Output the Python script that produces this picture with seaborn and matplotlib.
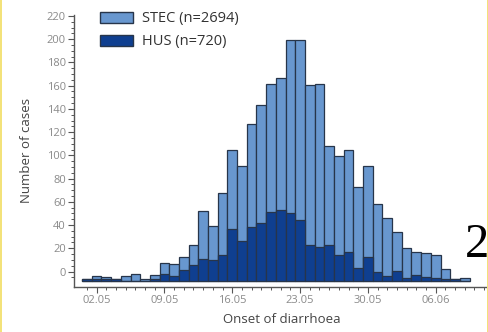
#!/usr/bin/env python3
"""Epidemic curve of STEC / HUS cases by onset of diarrhoea."""

import matplotlib.pyplot as plt
import numpy as np
import pandas as pd
import seaborn as sns
from matplotlib.patches import Patch, Rectangle
from matplotlib.ticker import FixedLocator

# one bar per day, 01.05 to 09.06
onset_days = pd.date_range("2011-05-01", periods=40, freq="D").strftime("%d.%m").tolist()
stec_cases = [1, 4, 3, 1, 4, 6, 1, 5, 15, 14, 20, 31, 60, 47, 75, 112, 99, 135, 151, 169,
              174, 207, 207, 168, 169, 116, 107, 112, 81, 99, 66, 54, 42, 28, 25, 24, 22, 10, 1, 2]
hus_cases = [1, 1, 1, 1, 0, 0, 0, 1, 6, 4, 9, 13, 19, 18, 22, 44, 34, 46, 50, 59,
             61, 58, 52, 31, 29, 31, 22, 25, 11, 20, 7, 4, 8, 2, 5, 3, 2, 1, 1, 0]
date_labels = ["02.05", "09.05", "16.05", "23.05", "30.05", "06.06"]
y_labels = list(range(0, 221, 20))

STEC_COLOR = "#6897cf"
HUS_COLOR = "#0f3f90"
EDGE = "#27354a"
# the printed "0" sits a little above the bar baseline in the original
LABEL_SHIFT = 7.8


def main():
    sns.set_theme(style="ticks")
    plt.rcParams["font.family"] = ["Open Sans", "DejaVu Sans"]

    df = pd.DataFrame({"day": onset_days, "STEC": stec_cases, "HUS": hus_cases})

    fig = plt.figure(figsize=(4.89, 3.32), dpi=100)
    ax = fig.add_axes([0.152, 0.136, 0.848, 0.82])

    sns.barplot(data=df, x="day", y="STEC", color=STEC_COLOR, width=1.0,
                edgecolor=EDGE, linewidth=0.9, saturation=1, ax=ax)
    sns.barplot(data=df, x="day", y="HUS", color=HUS_COLOR, width=1.0,
                edgecolor=EDGE, linewidth=0.9, saturation=1, ax=ax)

    ax.set_xlim(-1.3, 41.5)
    ax.set_ylim(-5.4, 229)

    major_x = [onset_days.index(d) for d in date_labels]
    ax.set_xticks(major_x)
    ax.set_xticklabels(date_labels)
    ax.xaxis.set_minor_locator(FixedLocator(range(len(onset_days) + 2)))

    ax.set_yticks([v + LABEL_SHIFT for v in y_labels])
    ax.set_yticklabels([str(v) for v in y_labels])
    ax.yaxis.set_minor_locator(FixedLocator(np.arange(-5, 221, 5) + LABEL_SHIFT))

    ax.tick_params(axis="both", which="major", length=4, width=0.8, color="#555555",
                   labelsize=8, labelcolor="#8a8a8a", pad=2)
    ax.tick_params(axis="both", which="minor", length=2.5, width=0.7, color="#555555")

    sns.despine(ax=ax)
    for side in ("left", "bottom"):
        ax.spines[side].set_color("#555555")
        ax.spines[side].set_linewidth(1.0)

    ax.set_xlabel("Onset of diarrhoea", fontsize=9.5, color="#444444")
    ax.set_ylabel("Number of cases", fontsize=9.5, color="#444444", labelpad=10)
    ax.xaxis.set_label_coords(0.5, -0.095)

    handles = [Patch(facecolor=STEC_COLOR, edgecolor=EDGE, label="STEC (n=2694)"),
               Patch(facecolor=HUS_COLOR, edgecolor=EDGE, label="HUS (n=720)")]
    ax.legend(handles=handles, loc="upper left", bbox_to_anchor=(0.03, 1.06),
              frameon=False, fontsize=10.5, labelcolor="#333333",
              handlelength=2.3, handleheight=0.8, handletextpad=0.6, labelspacing=0.55)

    # cut-off page text on the right and the scan's yellow edges
    fig.text(0.951, 0.226, "2", fontsize=35, family="Liberation Serif",
             color="black", va="baseline", ha="left")
    fig.add_artist(Rectangle((0, 0), 0.005, 1, transform=fig.transFigure,
                             color="#f3e27a", lw=0))
    fig.add_artist(Rectangle((0.995, 0), 0.005, 1, transform=fig.transFigure,
                             color="#f3e27a", lw=0))

    fig.savefig("out.png", dpi=100)
    plt.close(fig)


if __name__ == "__main__":
    main()
